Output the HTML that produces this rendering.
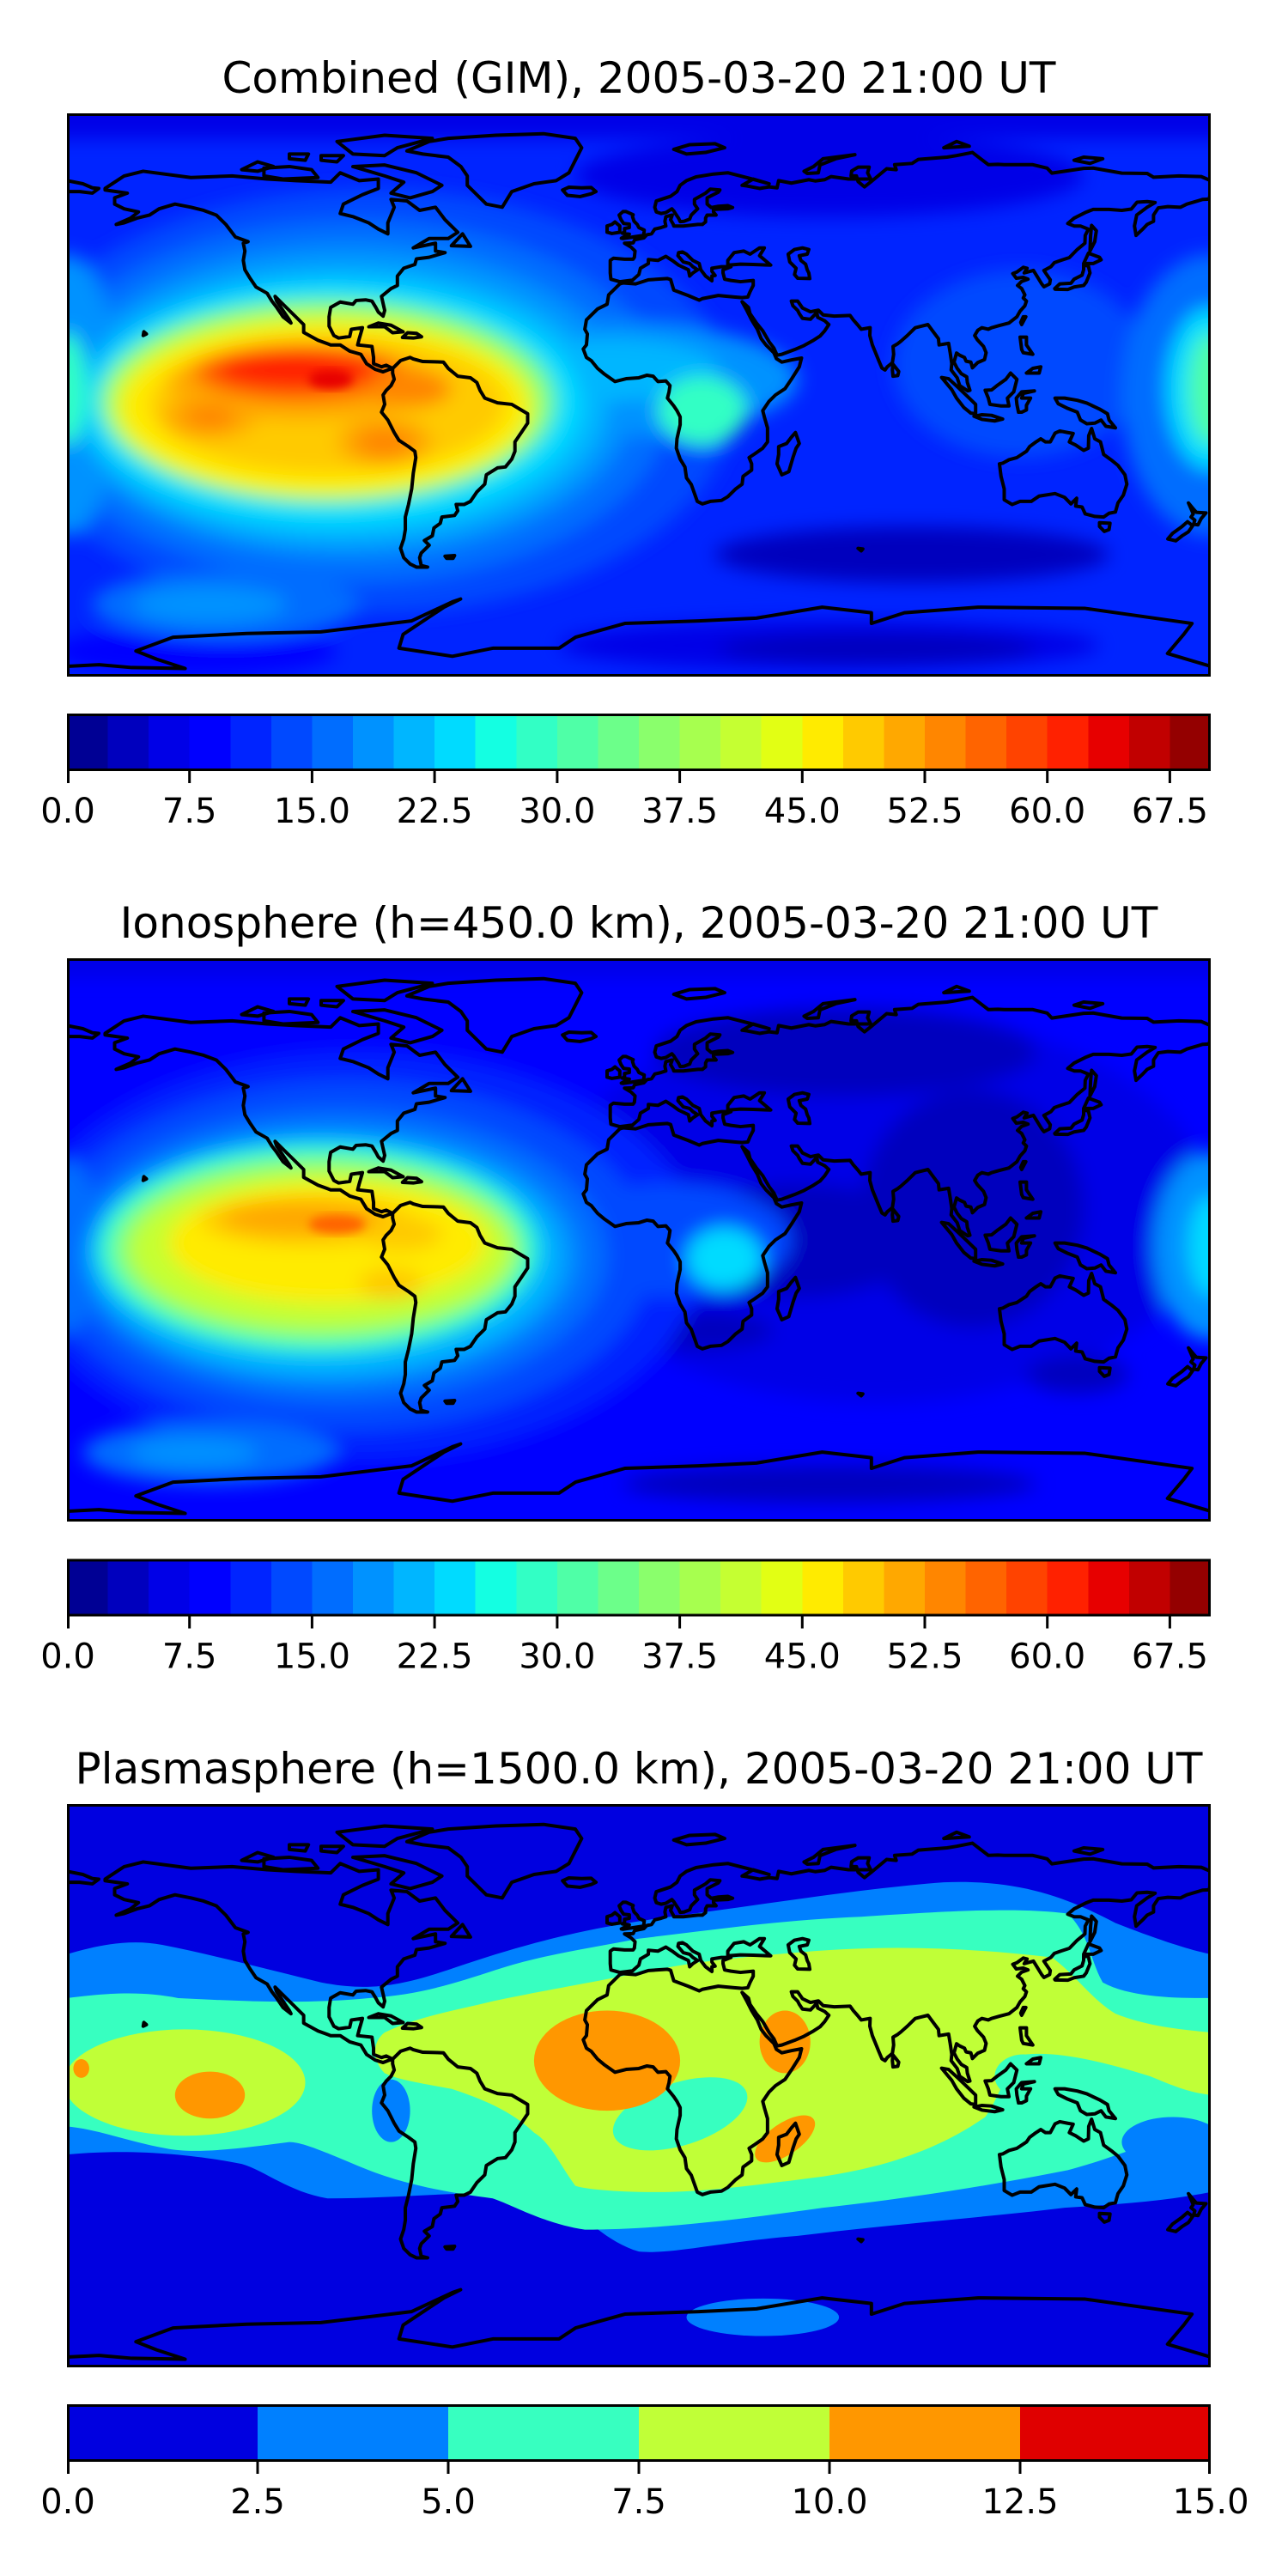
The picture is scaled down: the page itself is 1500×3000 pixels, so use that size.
<!DOCTYPE html>
<html><head><meta charset="utf-8"><style>
html,body{margin:0;padding:0;background:#fff;}
svg{display:block;}
.t{font-family:"DejaVu Sans","Liberation Sans",sans-serif;fill:#000;}
</style></head><body>
<svg width="1500" height="3000" viewBox="0 0 1500 3000" xmlns="http://www.w3.org/2000/svg">
<defs>
<filter id="bl" x="-20%" y="-20%" width="140%" height="140%"><feGaussianBlur stdDeviation="3 3"/></filter>
<filter id="bl2" x="-20%" y="-20%" width="140%" height="140%"><feGaussianBlur stdDeviation="1.5 1.5"/></filter>
<g id="coast" fill="none" stroke="#000" stroke-width="4" stroke-linejoin="round" vector-effect="non-scaling-stroke">
<g transform="translate(180,90) scale(1,-1)">
<polygon vector-effect="non-scaling-stroke" points="-168,66 -162,70 -156,71.5 -141,69.5 -128,70 -117,69 -108,68.5 -97,68 -94,71 -88,68.5 -82,69 -82,66 -87,64 -93,61 -94,58 -90,57 -85,55 -82,53 -79,51.5 -79,55 -77,60 -78,62.5 -73,62 -69,59 -64,60 -61,56 -57,52 -60,50 -66,50 -71,47 -64,48.5 -64,46 -61,45.5 -66,44 -70,43.5 -70.5,41.7 -74,40.5 -76,38 -76,35 -78,34 -81,31.5 -80,27 -80.5,25.2 -82,26.5 -82.8,28 -84,30 -86,30.4 -89,30.2 -90,29 -94,29.7 -97,28 -97.5,25 -97.5,22 -96,19 -94.5,18.2 -91,18.7 -90.5,21 -87,21.5 -88,18 -88.5,16 -84,15.5 -83.5,12 -83.5,10 -81,9 -79.5,9.5 -77.5,8.5 -79,8 -80.5,7.4 -83,8.2 -85.7,10 -87.5,13 -91,14 -94,16 -97,16 -101,17.5 -105.5,20 -105.5,22.5 -109,26 -112.5,29.5 -114.5,31.5 -114,30 -112,27 -110,24 -109.5,23 -112,25 -114,28 -115.5,30 -117,32.5 -120.5,34.5 -122.5,37.5 -124,40 -124.5,43 -124,46 -124.5,48.5 -123,49 -127,50.5 -130,54.5 -133,57.5 -137,59 -141,60 -146,61 -151,59.5 -154,57.5 -158,56.5 -162,55 -164.5,54.5 -160,56.5 -157.5,58.5 -162,59.5 -165,61 -165,63 -161,64.5 -168,65.5"/>
<polygon vector-effect="non-scaling-stroke" points="-77.5,8.5 -75,11 -72,12 -71,11.5 -68,10.7 -64,10.6 -61.5,10.5 -60,8.5 -57,6 -53,5.5 -51,4 -50,1.5 -48.5,-1 -44.5,-2.5 -40,-3 -37,-4.8 -35,-6 -35,-9 -37,-12 -39,-15 -39,-18 -40,-20.5 -42,-23 -44.5,-23.3 -48,-25.5 -48.5,-28.5 -51,-31 -53,-34 -55,-35 -57.5,-35 -57,-37 -58,-38.5 -62,-39 -62.5,-41 -64.5,-42.5 -65,-45 -67.5,-46.5 -66,-48 -68.5,-50.5 -69,-52 -68.5,-54.5 -66.5,-55 -70,-55 -72,-54 -74,-52 -75,-49 -74,-46 -73.5,-43 -73.5,-39 -72.5,-35 -71.5,-30 -71,-25 -70.2,-20 -70.5,-18 -72.5,-16.5 -75.5,-14.5 -77,-12 -79,-8 -81,-5.5 -80,-3 -80.5,0 -79.5,1.5 -78,3 -77,5 -77.5,7"/>
<polygon vector-effect="non-scaling-stroke" points="-73,78 -66,81 -60,82 -45,83 -30,83.5 -20,82 -18,79 -20,75 -22,71 -26,68.5 -33,67.5 -40,65 -43,60 -48,61 -51,64 -54,67 -54,70 -56,73 -60,76 -68,77"/>
<polygon vector-effect="non-scaling-stroke" points="-62,67 -65,65 -72,63 -78,64.5 -74,68 -80,70 -90,73 -80,73.5 -70,71"/>
<polygon vector-effect="non-scaling-stroke" points="-118,70 -112,69 -101,69.5 -103,72 -110,73 -118,72.5"/>
<polygon vector-effect="non-scaling-stroke" points="-90,77 -80,76.5 -76,79 -65,82 -80,83 -95,81"/>
<polygon vector-effect="non-scaling-stroke" points="-125,72 -120,71.5 -115,73 -120,74.5"/>
<polygon vector-effect="non-scaling-stroke" points="-100,75 -95,74.5 -93,76.5 -100,76.5"/>
<polygon vector-effect="non-scaling-stroke" points="-110,75.5 -105,75 -104,77 -110,77"/>
<polygon vector-effect="non-scaling-stroke" points="-85,21.8 -82,23 -78,22.3 -74.2,20.2 -77.5,19.9 -80,21.8"/>
<polygon vector-effect="non-scaling-stroke" points="-74.4,18.4 -72.8,19.9 -70,19.7 -68.4,18.6 -71,18.2"/>
<polygon vector-effect="non-scaling-stroke" points="-59,47.7 -55.5,51.5 -53,47.5"/>
<polygon vector-effect="non-scaling-stroke" points="-156,19 -155,19.5 -155.8,20.2"/>
<polyline vector-effect="non-scaling-stroke" points="-180,68.5 -175,67.5 -172,66.2 -170,66 -172,64.5 -176,65 -180,65"/>
<polygon vector-effect="non-scaling-stroke" points="-9,43 -9,39 -8.8,37 -6,36.2 -2,36.7 0,38.5 0.5,40.5 3,42 3,43.3 6,43 8.5,44.3 10.5,43 12.5,41.5 15.6,40 16,38 17,39 18.5,40 17,41 16,42 14,42.5 12.3,44.5 12.5,45.5 13.7,45.7 15,45 17,43 19,42 19.5,40 21,38 23,36.5 23,38 24,38.2 23,39.5 23,40.5 26,41 29,41 26.5,40 26.5,39 27,37 29,36.6 32,36.2 36,36.6 36,35 35,33 34.3,31.3 32.5,31.1 30,31.3 25,31.8 20,30.8 19,30.3 15.5,31.8 11,33.5 10,36.9 9,37.2 3,36.8 -1,35.5 -5,35.8 -6,35.5 -9.5,32 -10,29 -13,27.5 -16.5,24 -17,21 -16.2,19.5 -16.5,16 -17.5,14.7 -16.5,12 -15,11 -13,8.5 -11,6.8 -7.5,4.3 -4,5.2 0,5.5 2.5,6.3 4.5,6 6,4.3 8.5,4.5 9.8,3 9.5,1 9,-1 11,-3.5 12,-5 13,-7 13,-9.5 12,-14 11.8,-17 13,-20.5 14.5,-23 15,-26.5 16.5,-28.6 18.4,-34 20,-34.8 22.5,-34 26,-33.7 28,-32.5 30.5,-30 32.5,-28.5 32.8,-26 35.5,-24 35.5,-22 34.7,-20 36.5,-18.8 39,-17 40.5,-15 40.5,-10.5 39.5,-7 39,-5 41,-2 43,0 46,2 48,5 50.5,9 51.2,11.8 48,11.2 45,10.5 43.3,11.6 42.5,13.5 40,16 38.5,18 37.3,21 35.5,24 34,27 32.5,29.8 34.5,28 35,26 37,23 39,20.5 41,17 42.5,15 43.5,12.7 45,13 49,14.5 52,15.8 55,17.5 57,18.8 58.5,20.5 59.8,22.5 58.5,23.7 56.3,24.8 56,26.3 54,24.2 51.5,24.5 50.5,26 50,27 48.5,28.5 48,30 50,30 51.5,27.8 54,26.6 56.5,27.1 58,25.6 61.5,25.2 66.5,25.4 67.5,24 68.8,22.5 70,21 72.8,21.5 72.7,19 73.5,16 74.5,13.5 75.5,11 76.5,8.6 77.5,8 78.2,9 79.8,10.3 80.2,13 80,15.5 81.5,16.4 82.5,17.2 84.5,19 87,21.5 89,22 91,22.5 92.3,20.7 94.3,18 94.5,16 97.5,16.5 98,13.5 98.5,10 98.3,8 100.2,5.5 101,3 103.5,1.3 104.2,1.5 103.4,4 103.2,5.8 101.5,6.8 100.2,8.5 99.2,10.5 100,13.4 101,12.7 102.5,12 103,10.8 104.5,10.5 105,8.7 106.7,10.4 108.8,11.3 109.3,13.5 108.5,15.5 106.5,17.7 105.7,19 106.7,20.7 108,21.5 110,21 111,21.5 113.5,22.2 116.5,23 119,25 120,26.8 121.5,28.5 122,30 121,31 121.5,32 120.5,34 119.2,35 120.5,36.3 122.5,37 121,37.6 118.8,37.3 117.7,38.8 119,39.3 121,40.8 122.2,40.5 121.3,39 124.2,39.8 125.3,38 126.8,35.5 127.5,34.6 129.3,35.5 129.5,36.8 128.3,38.6 127.5,39.8 129.7,41 130.8,42.3 132.8,43 135.5,43.9 138,46.5 140.4,48.5 140.5,51 141.5,53 139,54 137,54 135,54.8 137,56.5 140.5,58.3 143,59.3 148,59.3 152,59 155,59.4 156.8,61.6 160,61.8 162.5,61.5 160,60 156.7,57.5 156,54 156.5,51 158.5,52.9 160,54.5 162,55.5 162,57.5 163.5,59.8 166.5,60.2 170.5,60 172.5,61 177.5,62.5 179.5,62.6 180,65 180,68.5 177,69.8 170,70 162,69.6 160,70.8 152,70.9 143,72.5 140,72.4 130,70.9 128.5,72.5 124,73.6 115,73.6 113,73.7 110,73.6 105,77.5 100,76.5 97,76 88,75.3 86,74 80.5,73.6 81,72 78,72.3 73.5,68.5 71,66.5 69,68.2 68.5,70 66.8,70 67,71.6 69,72.8 72.5,72.8 72,71 73,69 66,69 60.5,69.8 58.5,68.8 55.5,68.4 53.5,68.8 48,67.7 44,68.5 43.5,66.2 41,66.5 38,66 34,66.8 32.5,67 36,69 41,67.5 35,69.2 28,71 23.5,70.6 18,69.7 15,68.5 13,67 12,65 10,63.5 5.5,62 5,60 5.5,58.5 7,58 8.5,58.3 10.4,59.5 11,58.8 11.5,58 12.5,56.5 13,55.4 14.2,55.5 16,56.2 16.5,57.5 18.5,59.5 17.5,61 17.5,62.5 21,64.5 22.5,65.8 25.5,65.5 25,64.8 21.5,63 21.5,61 22.8,59.9 25,60.3 28,60.5 29.5,59.9 28,59.5 23.5,59.3 23.5,58.5 24.3,57.5 21.5,57.5 21,56.5 21,55.3 20,54.5 18.6,54.5 14,54 11,54 10.8,54.6 10,56 10.5,57.5 8.5,57 8.2,55.5 8.5,54 7,53.5 5,53 4,51.5 2.5,51.2 1.6,50.2 -1.3,49.6 -1.8,48.6 -4.5,48.5 -2.5,47.3 -1.2,46 -1.4,44 -1.8,43.4 -4.5,43.4 -8,43.7"/>
<polygon vector-effect="non-scaling-stroke" points="28,41.5 28,43 30,45.5 33,46 35,45 38,47 39.5,47 38,44.5 41.5,41.5 36,41.7 32,41.8"/>
<polygon vector-effect="non-scaling-stroke" points="47,45 49,46.5 51.5,47 53.5,46.5 53,45 50.5,44.5 51,43 52.5,41.8 53,40 53.5,39 53.8,37.2 50,37.3 49,38.5 49.5,40.5 47.5,42.5"/>
<polygon vector-effect="non-scaling-stroke" points="-5,50 1.5,51 1.7,52.7 0,53.5 -0.5,54.5 -1.5,55.5 -2,57 -1.8,57.6 -4,58.6 -5,58.6 -6.2,57.5 -5.6,56 -4.8,54.8 -3,54.6 -3,53.5 -4.5,53.2 -4.5,52.2 -5.2,51.7 -3,51.4 -5.5,50.1"/>
<polygon vector-effect="non-scaling-stroke" points="-6,52 -6,54 -7.5,55.3 -8.5,54.5 -10,54 -10,52 -8.5,51.6"/>
<polygon vector-effect="non-scaling-stroke" points="-24,65.5 -22,66.4 -18,66.2 -15,66.3 -13.5,65 -15,64.3 -18.5,63.4 -22.5,63.8"/>
<polygon vector-effect="non-scaling-stroke" points="49.3,-12 50.5,-15.5 49.5,-17 48.5,-20 47.2,-24.5 45,-25.5 43.5,-22 44,-19 44,-16.5 46.5,-15.5 48,-13.5"/>
<polygon vector-effect="non-scaling-stroke" points="80,9.8 81.8,7.5 81.5,6.2 80,6 79.8,8"/>
<polygon vector-effect="non-scaling-stroke" points="130.9,34 132.5,35.5 136,35.7 137,37 139.5,38.3 140,40 140,41.5 141.5,41.2 142,39 140.8,36 140,35 137,34.5 135,33.7 131,33.8"/>
<polygon vector-effect="non-scaling-stroke" points="140,42 141.5,45.3 145,44 145.5,43.2 143,42"/>
<polygon vector-effect="non-scaling-stroke" points="142,46 143.5,49 144,52.5 142.5,54.2 142.2,51"/>
<polygon vector-effect="non-scaling-stroke" points="120.5,22.5 121.8,25 121,25 120.2,23.2"/>
<polygon vector-effect="non-scaling-stroke" points="120,18.5 122,18.5 122,16 124,13 121,13.5 120.5,14.5"/>
<polygon vector-effect="non-scaling-stroke" points="122,7 126,7 126.5,9 124,8.5"/>
<polygon vector-effect="non-scaling-stroke" points="109,1.5 110,-1 110.5,-3 114,-3.5 116.5,-3.5 116,-1 118,1 119,5 117,7 115.5,5 113,3.2 111,1.6"/>
<polygon vector-effect="non-scaling-stroke" points="95.3,5.6 97.5,5.2 100.4,2.5 104,-1 106,-3 106,-6 104.5,-5.8 102.3,-4 100,-1 98.5,1.7"/>
<polygon vector-effect="non-scaling-stroke" points="105.5,-6.8 108,-6.3 111,-6.5 114.5,-7.7 112,-8.3 108,-7.8"/>
<polygon vector-effect="non-scaling-stroke" points="119.5,-5.5 119,-3 118.8,-1 120.5,1 124.5,1.3 121,0.5 120.5,-1 123.3,-1 122,-3.3 122,-4.8 120.5,-5.5"/>
<polygon vector-effect="non-scaling-stroke" points="131,-1 134,-1 138,-1.7 141,-2.6 145,-4.5 147.5,-6 148,-8 150,-10.5 147,-10 145.5,-8 143.5,-9 141,-9.2 139,-8 138,-5.5 135,-4.3 132,-2.8"/>
<polygon vector-effect="non-scaling-stroke" points="113.5,-22 114,-26 115,-30 115,-33.5 117.5,-35 120,-34 123.5,-34 126,-32.3 131,-31.5 134,-32.7 136,-34.8 137.8,-33 137.5,-35.5 139.5,-35.8 140.5,-38 143.5,-38.8 146.3,-39 148,-37.8 150,-37.4 150.8,-34.5 152.5,-32 153.6,-28.5 153,-25.5 150.8,-22.5 149,-21 146.3,-19 145.3,-15 143.5,-14 142.5,-10.7 141.6,-13 141.5,-17 140,-17.7 137.5,-16 135.5,-15 136.7,-12.3 135,-12 132.5,-11.5 131,-12.2 129.5,-15 128,-15 126.5,-14 125,-15 123,-16.5 122,-18 119,-20 116.5,-20.7 114.5,-21.8"/>
<polygon vector-effect="non-scaling-stroke" points="145,-40.8 148.3,-41 148,-43 146.5,-43.6 145,-42"/>
<polygon vector-effect="non-scaling-stroke" points="173,-34.5 174.6,-36.5 175.5,-37.5 178.5,-37.7 177,-39.5 176,-41.5 174.6,-41.3 175,-40 173.8,-39 174.5,-38"/>
<polygon vector-effect="non-scaling-stroke" points="172.7,-40.5 174.3,-41.8 173,-43.7 171,-45 169,-46.6 166.5,-46 168,-44.2 171,-42"/>
<polygon vector-effect="non-scaling-stroke" points="52,71.5 55,73 58,75.5 68,76.8 62,75.5 57,73.5 56.5,71 53,70.8"/>
<polygon vector-effect="non-scaling-stroke" points="11,78.5 16,80 24,80.3 27,79 21,77.5 15,77"/>
<polygon vector-effect="non-scaling-stroke" points="96,79 104,79.5 100,81"/>
<polygon vector-effect="non-scaling-stroke" points="137,75 142,74 146,75.5 140,76"/>
<polygon vector-effect="non-scaling-stroke" points="-61,-51.5 -58,-51.3 -58.5,-52.2 -60.5,-52.2"/>
<polygon vector-effect="non-scaling-stroke" points="69,-49 70.5,-49.2 70,-49.8"/>
</g>
<polyline vector-effect="non-scaling-stroke" points="0,176.7 10.1,176.2 20.4,177.1 37.2,177.4 28.2,174.4 21.7,171.8 33.4,167.4 56.6,166.2 79.9,165.7 108.4,162.2 121.3,156.1 123.9,155.2 118.7,157.8 113.5,161.3 105.8,166.5 104.5,170.9 121.3,173.5 134.2,170.9 154.9,170.9 160.1,167.4 175.6,163 198.9,162.2 217,161.3 237.7,157.8 253.2,159.6 253.2,163 263.6,159.6 286.8,157.8 320.5,158.2 354.1,163 351.5,166.5 346.4,172.6 360,176.7"/>
</g>
</defs>

<!-- PANEL 1 -->
<text class="t" x="744" y="108" font-size="50" text-anchor="middle">Combined (GIM), 2005-03-20 21:00 UT</text>
<svg x="78" y="132" width="1332" height="656" viewBox="0 0 360 180" preserveAspectRatio="none">
<rect x="0" y="0" width="360" height="180" fill="#0024ff"/>
<g filter="url(#bl)">
<rect x="-10" y="-10" width="380" height="18" fill="#0000e7"/>
<ellipse cx="240" cy="20" rx="80" ry="13" fill="#0000e7"/>
<ellipse cx="266" cy="141" rx="62" ry="9" fill="#0000be"/>
<ellipse cx="240" cy="170" rx="85" ry="8" fill="#0000e7"/>
<ellipse cx="255" cy="171" rx="50" ry="5" fill="#0000be"/>
<ellipse cx="40" cy="172" rx="45" ry="8" fill="#0000ff"/>
<ellipse cx="95" cy="92" rx="115" ry="68" fill="#0049ff"/>
<ellipse cx="300" cy="80" rx="40" ry="30" fill="#0049ff"/>
<ellipse cx="90" cy="92" rx="100" ry="58" fill="#006dff"/>
<ellipse cx="50" cy="157" rx="42" ry="11" fill="#006dff"/>
<ellipse cx="45" cy="157" rx="24" ry="6" fill="#0092ff"/>
<ellipse cx="360" cy="90" rx="28" ry="45" fill="#006dff"/>
<ellipse cx="0" cy="90" rx="16" ry="45" fill="#0092ff"/>
<ellipse cx="175" cy="85" rx="55" ry="18" fill="#0092ff"/>
<ellipse cx="88" cy="92" rx="90" ry="50" fill="#0092ff"/>
<ellipse cx="86" cy="93" rx="84" ry="44" fill="#00b6ff"/>
<ellipse cx="170" cy="82" rx="35" ry="10" fill="#00b6ff"/>
<ellipse cx="84" cy="93" rx="78" ry="39" fill="#00dbff"/>
<ellipse cx="200" cy="95" rx="14" ry="11" fill="#32ffc5"/>
<ellipse cx="360" cy="88" rx="14" ry="26" fill="#00dbff"/>
<ellipse cx="360" cy="88" rx="7" ry="18" fill="#4fffa7"/>
<ellipse cx="0" cy="88" rx="6" ry="18" fill="#32ffc5"/>
<ellipse cx="82" cy="92" rx="72" ry="33" fill="#6cff8a"/>
<ellipse cx="81" cy="93" rx="68" ry="30" fill="#c5ff32"/>
<ellipse cx="81" cy="94" rx="64" ry="27" fill="#ffeb00"/>
<ellipse cx="82" cy="93" rx="56" ry="22" fill="#ffca00"/>
<ellipse cx="108" cy="92" rx="28" ry="15" fill="#ffca00"/>
<ellipse cx="74" cy="86" rx="42" ry="12" fill="#ffa800"/>
<ellipse cx="45" cy="97" rx="15" ry="7" fill="#ffa800"/>
<ellipse cx="100" cy="105" rx="15" ry="8" fill="#ffa800"/>
<ellipse cx="73" cy="83" rx="33" ry="9" fill="#ff6400"/>
<ellipse cx="45" cy="97" rx="8" ry="4" fill="#ff8600"/>
<ellipse cx="100" cy="105" rx="9" ry="4.5" fill="#ff8600"/>
<ellipse cx="108" cy="88" rx="13" ry="6" fill="#ff8600"/>
<ellipse cx="72" cy="82" rx="25" ry="6" fill="#ff2100"/>
</g>
<ellipse cx="83" cy="85" rx="7" ry="3" fill="#e70000" filter="url(#bl2)"/>
<use href="#coast"/>
</svg>
<rect x="79.5" y="133.5" width="1329" height="653" fill="none" stroke="#000" stroke-width="3"/>

<!-- PANEL 2 -->
<text class="t" x="744" y="1092" font-size="50" text-anchor="middle">Ionosphere  (h=450.0 km), 2005-03-20 21:00 UT</text>
<svg x="78" y="1116" width="1332" height="656" viewBox="0 0 360 180" preserveAspectRatio="none">
<rect x="0" y="0" width="360" height="180" fill="#0000ff"/>
<g filter="url(#bl)">
<rect x="-10" y="-10" width="380" height="16" fill="#0000e7"/>
<ellipse cx="255" cy="80" rx="105" ry="62" fill="#0000e7"/>
<ellipse cx="245" cy="30" rx="60" ry="14" fill="#0000be"/>
<ellipse cx="285" cy="80" rx="35" ry="38" fill="#0000be"/>
<ellipse cx="230" cy="90" rx="40" ry="18" fill="#0000be"/>
<ellipse cx="200" cy="119" rx="22" ry="6" fill="#0000be"/>
<ellipse cx="318" cy="133" rx="16" ry="6" fill="#0000be"/>
<ellipse cx="240" cy="168" rx="65" ry="6" fill="#0000be"/>
<ellipse cx="92" cy="95" rx="108" ry="66" fill="#0024ff"/>
<ellipse cx="88" cy="95" rx="96" ry="56" fill="#0049ff"/>
<ellipse cx="45" cy="158" rx="40" ry="10" fill="#006dff"/>
<ellipse cx="40" cy="158" rx="20" ry="4.5" fill="#0092ff"/>
<ellipse cx="190" cy="90" rx="38" ry="18" fill="#0049ff"/>
<ellipse cx="360" cy="92" rx="18" ry="30" fill="#0092ff"/>
<ellipse cx="0" cy="92" rx="10" ry="28" fill="#006dff"/>
<ellipse cx="85" cy="95" rx="85" ry="47" fill="#006dff"/>
<ellipse cx="83" cy="95" rx="78" ry="41" fill="#0092ff"/>
<ellipse cx="81" cy="95" rx="74" ry="38" fill="#00b6ff"/>
<ellipse cx="207" cy="96" rx="12" ry="10" fill="#00dbff"/>
<ellipse cx="360" cy="92" rx="7" ry="16" fill="#00dbff"/>
<ellipse cx="79" cy="93" rx="69" ry="33" fill="#32ffc5"/>
<ellipse cx="79" cy="93" rx="64" ry="29" fill="#8aff6c"/>
<ellipse cx="80" cy="93" rx="60" ry="25" fill="#c5ff32"/>
<ellipse cx="82" cy="91" rx="50" ry="19" fill="#ffeb00"/>
<ellipse cx="76" cy="84" rx="34" ry="8" fill="#ffca00"/>
<ellipse cx="102" cy="104" rx="10" ry="5" fill="#ffca00"/>
<ellipse cx="105" cy="88" rx="13" ry="5.5" fill="#ffca00"/>
<ellipse cx="74" cy="83" rx="25" ry="5.5" fill="#ffa800"/>
</g>
<ellipse cx="85" cy="85" rx="9" ry="3" fill="#ff6400" filter="url(#bl2)"/>
<use href="#coast"/>
</svg>
<rect x="79.5" y="1117.5" width="1329" height="653" fill="none" stroke="#000" stroke-width="3"/>

<!-- PANEL 3 -->
<text class="t" x="744" y="2077" font-size="50" text-anchor="middle">Plasmasphere (h=1500.0 km), 2005-03-20 21:00 UT</text>
<svg x="78" y="2101" width="1332" height="656" viewBox="0 0 360 180" preserveAspectRatio="none">
<rect x="0" y="0" width="360" height="180" fill="#0000e0"/>
<path fill="#0080ff" d="M0,48 C10,45 20,43 30,45 C45,48 60,52 80,57 C95,60 105,58 120,53 C140,46 160,40 190,36 C220,32 250,27 276,25 C300,24 315,30 330,38 C345,44 355,47 360,48 L360,124 C345,127 330,128 314,129 C290,132 262,134 230,138 C205,140 190,144 180,143 C170,140 163,132 155,126 C140,122 110,126 82,126 C70,124 62,117 55,115 C40,112 20,110 0,112 Z"/>
<path fill="#37ffc0" d="M0,62 C15,60 25,60 35,62 C55,63 75,64 95,62 C110,61 120,58 135,53 C150,48 165,46 180,43 C205,40 225,37 250,36 C280,34 300,33 315,35 C322,42 322,50 326,57 C335,62 350,62 360,62 L360,103 C345,106 330,113 315,117 C290,122 265,126 238,129 C210,133 185,136 163,136 C150,134 140,128 134,126 C118,124 105,121 95,117 C85,113 75,108 70,108 C55,110 40,112 31,110 C20,108 10,104 0,103 Z"/>
<ellipse cx="102" cy="98" rx="6" ry="10" fill="#0080ff"/>
<ellipse cx="348" cy="108" rx="16" ry="8" fill="#0080ff"/>
<path fill="#c0ff37" d="M100,73 C110,68 122,66 134,63 C148,60 160,58 185,53 C200,50 212,49 235,47 C260,45 285,46 310,49 C318,55 322,62 330,67 C340,71 350,72 360,73 L360,93 C352,92 346,89 341,87 C325,82 312,79 302,80 C295,85 293,95 289,100 C275,110 258,116 238,119 C215,122 200,124 186,124 C172,124 163,123 160,122 C155,115 152,108 147,105 C140,98 130,94 121,91 C110,89 104,88 100,86 C96,82 96,76 100,73 Z"/>
<ellipse cx="37" cy="89" rx="38" ry="17" fill="#c0ff37"/>
<ellipse cx="193" cy="99" rx="22" ry="10" fill="#37ffc0" transform="rotate(-18 193 99)"/>
<ellipse cx="301" cy="87" rx="9" ry="7" fill="#37ffc0"/>
<ellipse cx="170" cy="82" rx="23" ry="16" fill="#ff9700"/>
<ellipse cx="45" cy="93" rx="11" ry="7.5" fill="#ff9700"/>
<ellipse cx="4.5" cy="84.5" rx="2.5" ry="3" fill="#ff9700"/>
<ellipse cx="226" cy="76" rx="8" ry="10" fill="#ff9700"/>
<ellipse cx="226" cy="107" rx="11" ry="5" fill="#ff9700" transform="rotate(-35 226 107)"/>
<ellipse cx="219" cy="164" rx="24" ry="6" fill="#0080ff"/>
<use href="#coast"/>
</svg>
<rect x="79.5" y="2102.5" width="1329" height="653" fill="none" stroke="#000" stroke-width="3"/>

<!-- COLORBARS 1 & 2 -->
<g id="cb1">
<g shape-rendering="crispEdges">
<rect x="78" y="831" width="48" height="67" fill="#000094"/>
<rect x="125.6" y="831" width="48" height="67" fill="#0000be"/>
<rect x="173.1" y="831" width="48" height="67" fill="#0000e7"/>
<rect x="220.7" y="831" width="48" height="67" fill="#0000ff"/>
<rect x="268.3" y="831" width="48" height="67" fill="#0024ff"/>
<rect x="315.9" y="831" width="48" height="67" fill="#0049ff"/>
<rect x="363.4" y="831" width="48" height="67" fill="#006dff"/>
<rect x="411" y="831" width="48" height="67" fill="#0092ff"/>
<rect x="458.6" y="831" width="48" height="67" fill="#00b6ff"/>
<rect x="506.1" y="831" width="48" height="67" fill="#00dbff"/>
<rect x="553.7" y="831" width="48" height="67" fill="#14ffe2"/>
<rect x="601.3" y="831" width="48" height="67" fill="#32ffc5"/>
<rect x="648.9" y="831" width="48" height="67" fill="#4fffa7"/>
<rect x="696.4" y="831" width="48" height="67" fill="#6cff8a"/>
<rect x="744" y="831" width="48" height="67" fill="#8aff6c"/>
<rect x="791.6" y="831" width="48" height="67" fill="#a7ff4f"/>
<rect x="839.1" y="831" width="48" height="67" fill="#c5ff32"/>
<rect x="886.7" y="831" width="48" height="67" fill="#e2ff14"/>
<rect x="934.3" y="831" width="48" height="67" fill="#ffeb00"/>
<rect x="981.9" y="831" width="48" height="67" fill="#ffca00"/>
<rect x="1029.4" y="831" width="48" height="67" fill="#ffa800"/>
<rect x="1077" y="831" width="48" height="67" fill="#ff8600"/>
<rect x="1124.6" y="831" width="48" height="67" fill="#ff6400"/>
<rect x="1172.1" y="831" width="48" height="67" fill="#ff4300"/>
<rect x="1219.7" y="831" width="48" height="67" fill="#ff2100"/>
<rect x="1267.3" y="831" width="48" height="67" fill="#e70000"/>
<rect x="1314.9" y="831" width="48" height="67" fill="#c10000"/>
<rect x="1362.4" y="831" width="47.6" height="67" fill="#940000"/>
</g>
<rect x="79.5" y="832.5" width="1329" height="64" fill="none" stroke="#000" stroke-width="3"/>
<g stroke="#000" stroke-width="3">
<line x1="79.5" y1="898" x2="79.5" y2="912"/><line x1="220.7" y1="898" x2="220.7" y2="912"/><line x1="363.4" y1="898" x2="363.4" y2="912"/><line x1="506.1" y1="898" x2="506.1" y2="912"/><line x1="648.9" y1="898" x2="648.9" y2="912"/><line x1="791.6" y1="898" x2="791.6" y2="912"/><line x1="934.3" y1="898" x2="934.3" y2="912"/><line x1="1077" y1="898" x2="1077" y2="912"/><line x1="1219.7" y1="898" x2="1219.7" y2="912"/><line x1="1362.4" y1="898" x2="1362.4" y2="912"/>
</g>
<g class="t" font-size="40" text-anchor="middle">
<text x="79" y="958">0.0</text><text x="220.7" y="958">7.5</text><text x="363.4" y="958">15.0</text><text x="506.1" y="958">22.5</text><text x="648.9" y="958">30.0</text><text x="791.6" y="958">37.5</text><text x="934.3" y="958">45.0</text><text x="1077" y="958">52.5</text><text x="1219.7" y="958">60.0</text><text x="1362.4" y="958">67.5</text>
</g>
</g>
<use href="#cb1" y="984.5"/>

<!-- COLORBAR 3 -->
<g shape-rendering="crispEdges">
<rect x="78" y="2800" width="223" height="67" fill="#0000e0"/>
<rect x="300" y="2800" width="223" height="67" fill="#0080ff"/>
<rect x="522" y="2800" width="223" height="67" fill="#37ffc0"/>
<rect x="744" y="2800" width="223" height="67" fill="#c0ff37"/>
<rect x="966" y="2800" width="223" height="67" fill="#ff9700"/>
<rect x="1188" y="2800" width="222" height="67" fill="#e00000"/>
</g>
<rect x="79.5" y="2801.5" width="1329" height="64" fill="none" stroke="#000" stroke-width="3"/>
<g stroke="#000" stroke-width="3">
<line x1="79.5" y1="2867" x2="79.5" y2="2881"/><line x1="300" y1="2867" x2="300" y2="2881"/><line x1="522" y1="2867" x2="522" y2="2881"/><line x1="744" y1="2867" x2="744" y2="2881"/><line x1="966" y1="2867" x2="966" y2="2881"/><line x1="1188" y1="2867" x2="1188" y2="2881"/><line x1="1408.5" y1="2867" x2="1408.5" y2="2881"/>
</g>
<g class="t" font-size="40" text-anchor="middle">
<text x="79" y="2927">0.0</text><text x="300" y="2927">2.5</text><text x="522" y="2927">5.0</text><text x="744" y="2927">7.5</text><text x="966" y="2927">10.0</text><text x="1188" y="2927">12.5</text><text x="1410" y="2927">15.0</text>
</g>
</svg>
</body></html>
